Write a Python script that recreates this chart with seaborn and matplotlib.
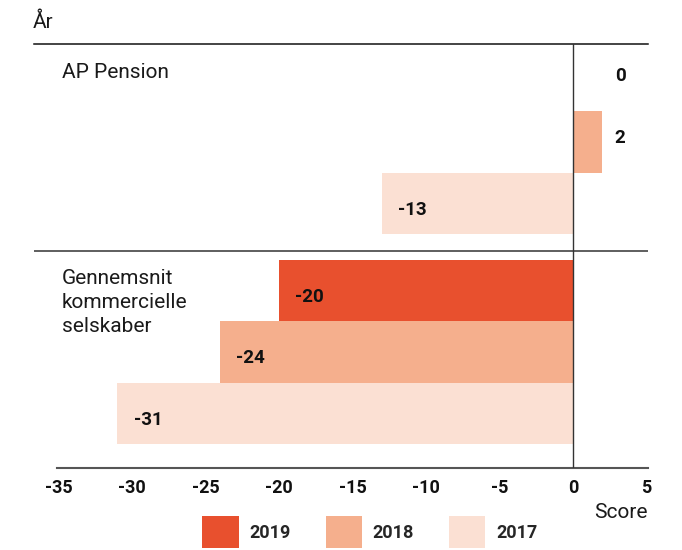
import matplotlib
matplotlib.use("Agg")
import matplotlib.pyplot as plt
import seaborn as sns
import pandas as pd

# ---- data ----
groups = ["AP Pension", "Gennemsnit kommercielle selskaber"]
group_labels = ["AP Pension", "Gennemsnit\nkommercielle\nselskaber"]
years = ["2019", "2018", "2017"]
ap_pension = [0, 2, -13]
gennemsnit = [-20, -24, -31]
colors = ["#E8502E", "#F5AF8D", "#FBE0D3"]
x_ticks = [-35, -30, -25, -20, -15, -10, -5, 0, 5]

rows = []
for g, vals in zip(groups, [ap_pension, gennemsnit]):
    for y, v in zip(years, vals):
        rows.append({"group": g, "year": y, "score": v})
df = pd.DataFrame(rows)

sns.set_theme(style="white")
plt.rcParams["font.family"] = ["Roboto", "DejaVu Sans"]

fig = plt.figure(figsize=(6.82, 5.5), dpi=100)
ax = fig.add_axes([34/682, 1-468/550, (648-34)/682, (468-44)/550])

sns.barplot(data=df, y="group", x="score", hue="year", hue_order=years,
            order=groups, palette=colors, width=0.88, dodge=True,
            orient="h", ax=ax, saturation=1, linewidth=0, errorbar=None)

handles, labels = ax.get_legend_handles_labels()
if ax.get_legend() is not None:
    ax.get_legend().remove()

ax.set_xlim(-36.67, 5.10)
ax.set_ylim(1.552, -0.467)
ax.set_xticks(x_ticks)
ax.set_xticklabels([str(t) for t in x_ticks], fontsize=13, fontweight="bold")
ax.set_yticks([])
ax.set_xlabel("")
ax.set_ylabel("")
ax.tick_params(axis="x", length=0, pad=8, colors="#111111")

for s in ["left", "right"]:
    ax.spines[s].set_visible(False)
ax.spines["top"].set_color("#111111")
ax.spines["top"].set_linewidth(1.1)
ax.spines["bottom"].set_color("#555555")
ax.spines["bottom"].set_linewidth(1.5)
ax.spines["bottom"].set_bounds(-35.1, 5.10)

ax.axhline(0.519, color="#333333", lw=1.1)
ax.axvline(0, color="#333333", lw=1.0, zorder=3)

# value labels
for cont in ax.containers:
    for bar in cont:
        yc = bar.get_y() + bar.get_height() / 2
        val = bar.get_width()
        if val < 0:
            ax.text(val + 1.1, yc + 0.03, f"{val:.0f}", ha="left", va="center",
                    fontsize=13.5, fontweight="bold", color="#111111")
        else:
            ax.text(3.2, yc - 0.02, f"{val:.0f}", ha="center", va="center",
                    fontsize=13.5, fontweight="bold", color="#111111")

# group labels
ax.text(-34.76, -0.33, group_labels[0], ha="left", va="center",
        fontsize=15, color="#1a1a1a")
ax.text(-34.76, 0.765, group_labels[1], ha="left", va="center",
        fontsize=15, color="#1a1a1a", linespacing=1.35)

fig.text(33/682, 1-22/550, "År", ha="left", va="center", fontsize=15, color="#1a1a1a")
fig.text(648/682, 1-513/550, "Score", ha="right", va="center", fontsize=15, color="#1a1a1a")

fig.legend(handles, labels, loc="upper center", bbox_to_anchor=(370/682, 1-500/550),
           ncol=3, frameon=False, handlelength=2.0, handleheight=2.3,
           handletextpad=0.6, columnspacing=1.95,
           prop={"size": 13, "weight": "bold", "family": ["Roboto", "DejaVu Sans"]})

fig.savefig("out.png", dpi=100)
